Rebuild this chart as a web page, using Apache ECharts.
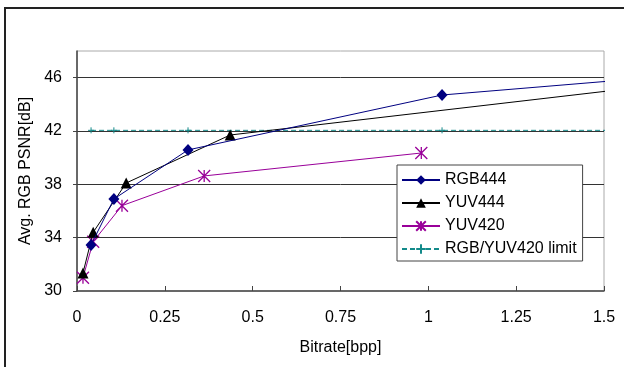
<!DOCTYPE html>
<html>
<head>
<meta charset="utf-8">
<script src="https://cdn.jsdelivr.net/npm/echarts@6/dist/echarts.min.js"></script>
<style>
  html, body { margin: 0; padding: 0; background: #fff; }
  #chart { width: 624px; height: 367px; }
</style>
</head>
<body>
<div id="chart"></div>
<script>
// values; the last point of each line lies past the x range and is clipped
const rgb444 = [[0.04, 33.45], [0.105, 36.9], [0.316, 40.58], [1.039, 44.7], [2.0, 46.8]]
const yuv444 = [[0.017, 31.35], [0.046, 34.4], [0.14, 38.1], [0.436, 41.7], [2.0, 46.5]]
const yuv420 = [[0.017, 31.0], [0.046, 33.7], [0.128, 36.4], [0.362, 38.63], [0.98, 40.35]]
const limit = [[0.04, 42.05], [0.105, 42.05], [0.316, 42.05], [1.039, 42.05], [2.0, 42.05]]

const seriesNames = ['RGB444', 'YUV444', 'YUV420', 'RGB/YUV420 limit']
const yTicks = [30, 34, 38, 42, 46]

const font = 'Arial, "Liberation Sans", sans-serif'
const starPath = 'path://M5,0L5,10M0,0L10,10M10,0L0,10'

const chart = echarts.init(document.getElementById('chart'))

const lineBase = {
  type: 'line',
  clip: true,
  animation: false,
  emphasis: { disabled: true },
}

chart.setOption({
  backgroundColor: '#fff',
  textStyle: { fontFamily: font },
  graphic: [{
    type: 'rect',
    shape: { x: 5, y: 8, width: 640, height: 400 },
    style: { fill: null, stroke: '#222', lineWidth: 2 },
    silent: true,
  }],
  grid: {
    left: 77, right: 20, top: 51, bottom: 76,
    show: true, borderColor: '#aaa', borderWidth: 1,
  },
  legend: {
    left: 397, top: 165, width: 186,
    orient: 'vertical',
    backgroundColor: '#fff',
    borderColor: '#444', borderWidth: 1,
    padding: [7, 6, 4, 4],
    itemGap: 7,
    itemWidth: 38, itemHeight: 12,
    textStyle: { fontSize: 16, color: '#000', fontFamily: font },
    data: seriesNames,
  },
  xAxis: {
    type: 'value',
    min: 0, max: 1.5, interval: 0.25,
    name: 'Bitrate[bpp]',
    nameLocation: 'middle', nameGap: 49,
    nameTextStyle: { fontSize: 16, color: '#000' },
    axisLine: { show: true, lineStyle: { color: '#444', width: 1.5 } },
    axisTick: { show: true, inside: true, length: 5, lineStyle: { color: '#444' } },
    axisLabel: { fontSize: 16, color: '#000', margin: 19 },
    splitLine: { show: false },
  },
  yAxis: {
    type: 'value',
    min: 30, max: 48, interval: 4,
    name: 'Avg. RGB PSNR[dB]',
    nameLocation: 'middle', nameGap: 43,
    nameTextStyle: { fontSize: 16, color: '#000' },
    axisLine: { show: true, lineStyle: { color: '#444', width: 1.5 } },
    axisTick: { show: true, length: 4, lineStyle: { color: '#444' } },
    axisLabel: {
      fontSize: 16, color: '#000', margin: 15, showMaxLabel: false,
      formatter: v => (yTicks.includes(v) ? String(v) : ''),
    },
    splitLine: { show: true, showMinLine: false, showMaxLine: false, lineStyle: { color: '#333', width: 1 } },
  },
  series: [
    {
      ...lineBase,
      name: seriesNames[3],
      data: limit,
      z: 3,
      symbol: 'path://M3,0L3,6M0,3L6,3',
      symbolSize: 6,
      itemStyle: { color: '#fff', borderColor: '#138a8a', borderWidth: 1 },
      lineStyle: { color: '#138a8a', width: 1, type: [5, 3] },
    },
    {
      ...lineBase,
      name: seriesNames[2],
      data: yuv420,
      z: 4,
      symbol: starPath,
      symbolSize: 12,
      itemStyle: { color: '#fff', borderColor: '#990099', borderWidth: 1.3 },
      lineStyle: { color: '#990099', width: 1 },
    },
    {
      ...lineBase,
      name: seriesNames[1],
      data: yuv444,
      z: 5,
      symbol: 'triangle',
      symbolSize: [11, 11],
      itemStyle: { color: '#000' },
      lineStyle: { color: '#000', width: 1 },
    },
    {
      ...lineBase,
      name: seriesNames[0],
      data: rgb444,
      z: 6,
      symbol: 'diamond',
      symbolSize: [11, 12],
      itemStyle: { color: '#000080' },
      lineStyle: { color: '#000080', width: 1 },
    },
  ],
})
</script>
</body>
</html>
